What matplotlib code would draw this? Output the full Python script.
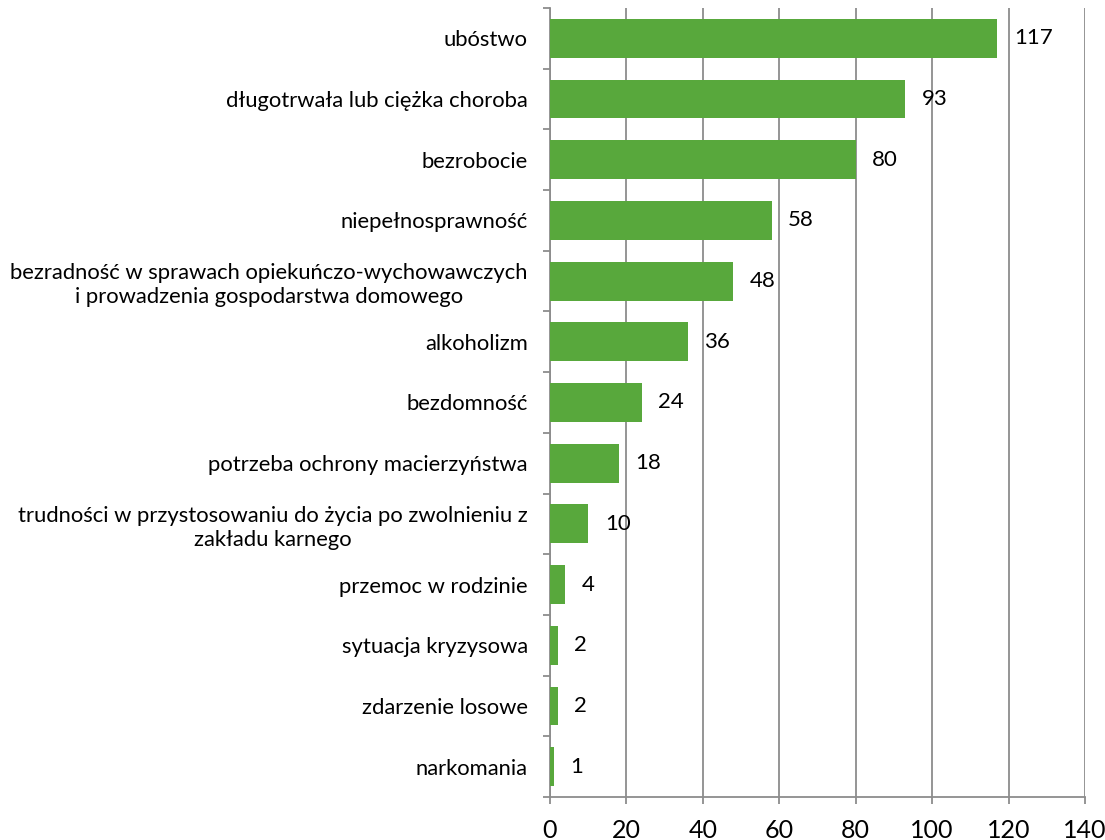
"""Horizontal bar chart: powody przyznania pomocy."""

import matplotlib
matplotlib.use("Agg")
import matplotlib.pyplot as plt
import numpy as np

plt.rcParams["font.family"] = ["Lato", "DejaVu Sans"]

CATEGORIES = [
    "ubóstwo",
    "długotrwała lub ciężka choroba",
    "bezrobocie",
    "niepełnosprawność",
    "bezradność w sprawach opiekuńczo-wychowawczych\ni prowadzenia gospodarstwa domowego",
    "alkoholizm",
    "bezdomność",
    "potrzeba ochrony macierzyństwa",
    "trudności w przystosowaniu do życia po zwolnieniu z\nzakładu karnego",
    "przemoc w rodzinie",
    "sytuacja kryzysowa",
    "zdarzenie losowe",
    "narkomania",
]
VALUES = [117, 93, 80, 58, 48, 36, 24, 18, 10, 4, 2, 2, 1]
X_TICKS = [0, 20, 40, 60, 80, 100, 120, 140]

BAR_COLOR = "#58a83c"
GRID_COLOR = "#8c8c8c"

fig = plt.figure(figsize=(11.05, 8.4), dpi=100)
ax = fig.add_axes([0.4977, 0.0512, 0.4842, 0.9393])

y = np.arange(len(CATEGORIES))
ax.barh(y, VALUES, height=0.64, color=BAR_COLOR, zorder=3)
for yi, v in zip(y, VALUES):
    ax.annotate(str(v), (v, yi), xytext=(12, 0), textcoords="offset points",
                va="center", ha="left", fontsize=16, color="black", zorder=4)

ax.set_xlim(0, 140)
ax.set_ylim(len(CATEGORIES) - 0.5, -0.5)
ax.set_xticks(X_TICKS)
ax.set_xticklabels([str(t) for t in X_TICKS], fontsize=18)
ax.set_yticks(y)
ax.set_yticklabels(CATEGORIES, fontsize=15.8, multialignment="center",
                   linespacing=1.25)
ax.set_yticks(np.arange(len(CATEGORIES) + 1) - 0.5, minor=True)

ax.tick_params(axis="y", which="major", length=0, pad=16)
ax.tick_params(axis="y", which="minor", length=5, width=1.3, color=GRID_COLOR)
ax.tick_params(axis="x", which="major", length=5, width=1.3, color=GRID_COLOR, pad=11)

ax.grid(axis="x", color=GRID_COLOR, linewidth=1.3, zorder=0)
ax.set_axisbelow(True)
for side in ["top", "right"]:
    ax.spines[side].set_visible(False)
for side in ["left", "bottom"]:
    ax.spines[side].set_color(GRID_COLOR)
    ax.spines[side].set_linewidth(1.3)

fig.savefig("out.png", dpi=100)
